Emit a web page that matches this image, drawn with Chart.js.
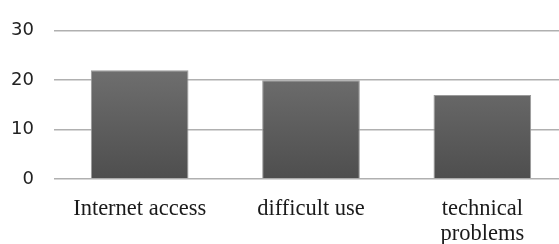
<!DOCTYPE html>
<html>
<head>
<meta charset="utf-8">
<script src="https://cdn.jsdelivr.net/npm/chart.js@4"></script>
<style>
  html, body { margin: 0; padding: 0; background: #fff; overflow: hidden; }
  #wrap { width: 568px; height: 244px; }
</style>
</head>
<body>
<div id="wrap"><canvas id="chart" width="568" height="244"></canvas></div>
<script>
const categories = ['Internet access', 'difficult use', ['technical', 'problems']];
const counts = [22, 20, 17];
const yTicks = [0, 10, 20, 30];

document.addEventListener('DOMContentLoaded', () => {
    const ctx = document.getElementById('chart').getContext('2d');

    // vertical gray gradient for the bars
    function barFill(context) {
        const area = context.chart.chartArea;
        if (!area) return '#606060';
        const g = context.chart.ctx.createLinearGradient(0, area.top, 0, area.bottom);
        g.addColorStop(0, '#7a7a7a');
        g.addColorStop(1, '#4e4e4e');
        return g;
    }

    new Chart(ctx, {
        type: 'bar',
        data: {
            labels: categories,
            datasets: [{
                data: counts,
                backgroundColor: barFill,
                borderColor: '#9a9a9a',
                borderWidth: 1,
                barPercentage: 0.57,
                categoryPercentage: 1
            }]
        },
        options: {
            responsive: false,
            animation: false,
            layout: { padding: { top: 23, right: 0, bottom: 0, left: 0 } },
            plugins: {
                legend: { display: false },
                tooltip: { enabled: false }
            },
            scales: {
                x: {
                    grid: { display: false },
                    border: { display: false },
                    ticks: {
                        padding: 9,
                        maxRotation: 0,
                        autoSkip: false,
                        color: '#1a1a1a',
                        font: { family: 'Liberation Serif', size: 22.5, lineHeight: 1.12 }
                    },
                    afterFit: scale => { scale.height = 65; }
                },
                y: {
                    min: 0,
                    max: 30,
                    afterBuildTicks: scale => {
                        scale.ticks = yTicks.map(v => ({ value: v }));
                    },
                    grid: { color: '#b0b0b0', lineWidth: 1.5, drawTicks: false },
                    border: { display: false },
                    ticks: {
                        padding: 20,
                        color: '#222',
                        font: { family: 'DejaVu Sans', size: 18 }
                    },
                    afterFit: scale => { scale.width = 54; }
                }
            }
        }
    });
});
</script>
</body>
</html>
